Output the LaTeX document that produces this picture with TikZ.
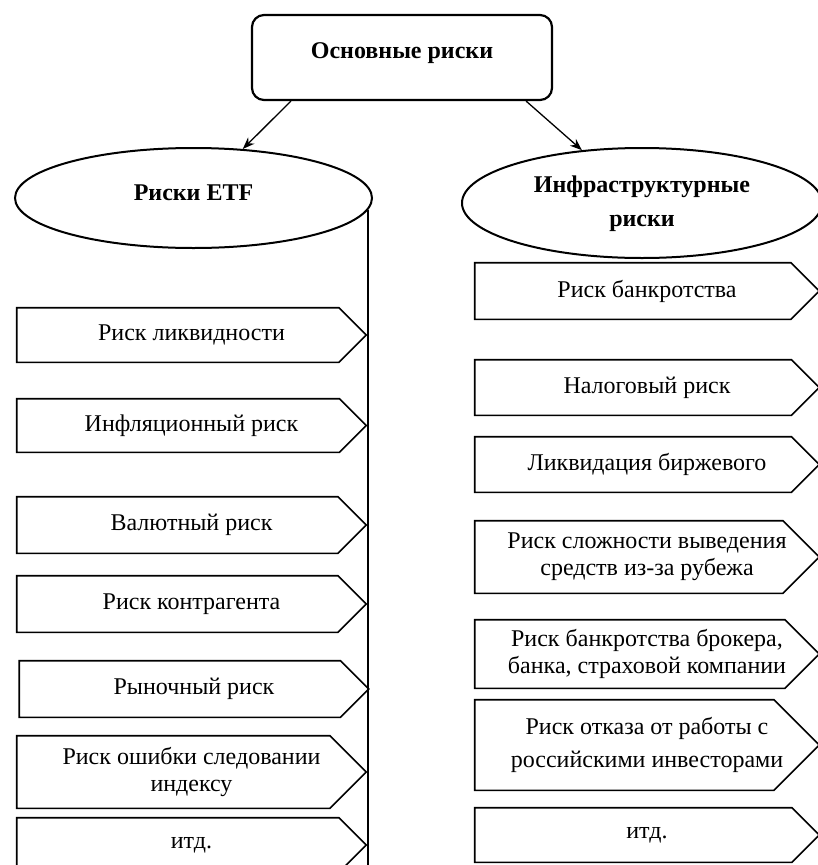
\documentclass[tikz,border=0pt]{standalone}
\usepackage{fontspec}
\setmainfont{Liberation Serif}
\usetikzlibrary{shapes, positioning, arrows.meta, calc}

\begin{document}
\begin{tikzpicture}[x=1pt, y=-1pt,
semithick,
font=\fontsize{24}{27}\selectfont,
top/.style={draw, line width=2.2pt, rounded corners=12pt, fill=white, minimum width=300pt, minimum height=85pt, font=\fontsize{24}{27}\selectfont\bfseries, text height=17pt, text depth=15pt},
group/.style={draw, line width=2pt, ellipse, fill=white, align=center, font=\fontsize{24}{27}\selectfont\bfseries},
risk/.style={rectangle, align=center, inner sep=0pt},
lrisk/.style={risk, minimum width=349pt},
rrisk/.style={risk, minimum width=344pt},
outline/.style={draw, line width=1.6pt}]

\useasboundingbox (0,0) rectangle (818,865);

\node[top]							(main)	at (402,57.5)		{Основные риски};

\node[group, minimum width=357pt, minimum height=100pt, text depth=10pt]	(etf)	at (193.5,198)		{Риски ETF};
\node[group, minimum width=360pt, minimum height=110pt, text depth=3pt]	(infra)	at (642,203)		{Инфраструктурные\\[7pt]риски};

% left column
\node[lrisk, minimum height=54pt]	(l1) at (191.5,335)		{Риск ликвидности};
\node[lrisk, minimum height=53pt]	(l2) at (191.5,425.5)	{Инфляционный риск};
\node[lrisk, minimum height=56pt]	(l3) at (191.5,525)		{Валютный риск};
\node[lrisk, minimum height=56pt]	(l4) at (191.5,604)		{Риск контрагента};
\node[lrisk, minimum height=56pt]	(l5) at (194,689)		{Рыночный риск};
\node[lrisk, minimum height=72pt]	(l6) at (191.5,772)		{Риск ошибки следовании\\индексу};
\node[lrisk, minimum height=54pt]	(l7) at (191.5,845)		{итд.};

% right column
\node[rrisk, minimum height=56pt]	(r1) at (647,291)		{Риск банкротства};
\node[rrisk, minimum height=55pt]	(r2) at (647,387.5)		{Налоговый риск};
\node[rrisk, minimum height=55pt]	(r3) at (647,464.5)		{Ликвидация биржевого};
\node[rrisk, minimum height=72pt]	(r4) at (647,557)		{Риск сложности выведения\\средств из-за рубежа};
\node[rrisk, minimum height=68pt]	(r5) at (647,654)		{Риск банкротства брокера,\\банка, страховой компании};
\node[rrisk, minimum height=90pt]	(r6) at (647,745)		{Риск отказа от работы с\\[6pt]российскими инвесторами};
\node[rrisk, minimum height=54pt]	(r7) at (647,835)		{итд.};

% pointed outlines
\foreach \b in {l1,l2,l3,l4,l5,l6,l7,r1,r2,r3,r4,r5,r6,r7}
 \draw[outline] let \p1=(\b.north east), \p2=(\b.east) in
  (\b.north west) -- (\x1-\y1+\y2,\y1) -- (\p2) -- (\x1-\y1+\y2,2*\y2-\y1) -- (\b.south west) -- cycle;

\coordinate (bottom) at (366,865);

\path[-{Stealth[length=12pt, width=9pt]}, line width=1.3pt]
 ([xshift=40pt]main.south west)		edge 	(etf)
 ([xshift=-27pt]main.south east)	edge 	(infra);

\draw[line width=1.6pt] (etf.-4) -- (etf.-4 |- bottom);

\end{tikzpicture}
\end{document}
